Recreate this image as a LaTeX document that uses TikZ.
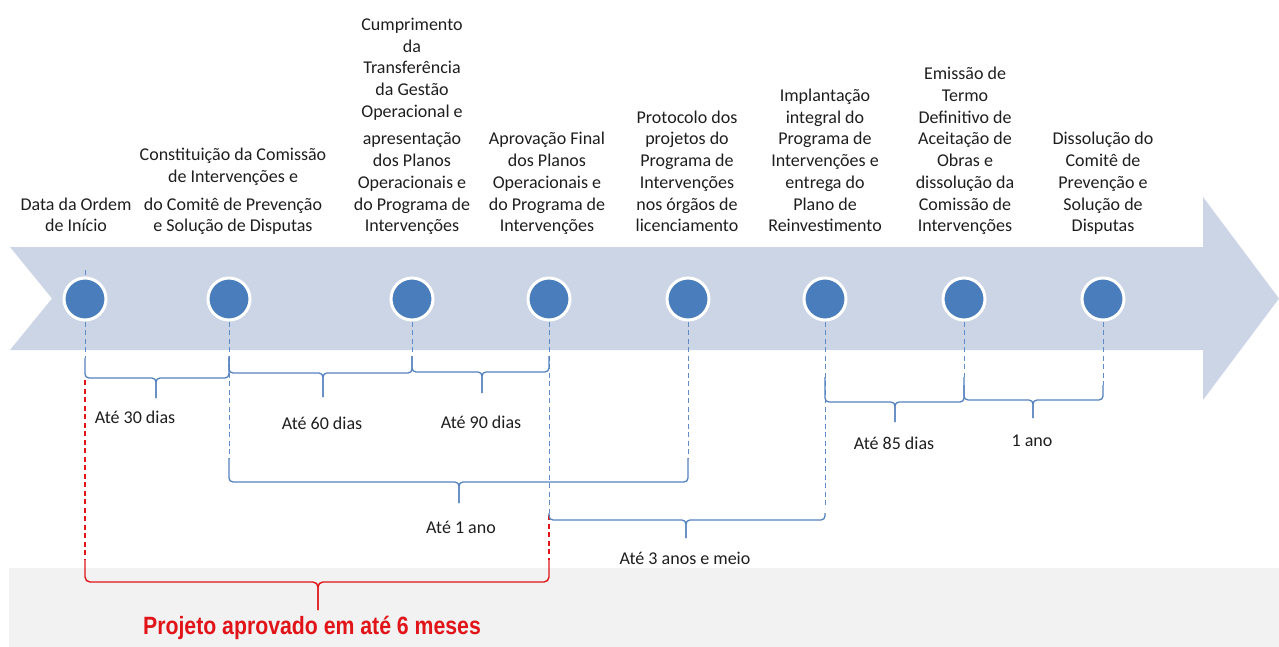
\documentclass[tikz,border=0pt]{standalone}
\usepackage{fontspec}
\setmainfont{Carlito}
\newfontfamily\redfont{Liberation Sans}
\usepackage{graphicx}
\definecolor{band}{RGB}{204,213,230}
\definecolor{dot}{RGB}{74,125,187}
\definecolor{brk}{RGB}{84,130,190}
\definecolor{guidec}{RGB}{95,140,198}
\definecolor{redc}{RGB}{225,20,25}
\definecolor{txt}{RGB}{30,30,30}
\definecolor{greyband}{RGB}{242,242,242}
\begin{document}
\begin{tikzpicture}[x=1pt,y=-1pt,
  milestone/.style={circle,fill=dot,draw=white,line width=3pt,minimum size=42pt,inner sep=0},
  evtext/.style={align=center,font=\fontsize{18}{21.7}\selectfont,text=txt,anchor=south,inner sep=0},
  durtext/.style={font=\fontsize{18}{21.7}\selectfont,text=txt,inner sep=0},
  guide/.style={draw=guidec,line width=0.9pt,dash pattern=on 5pt off 3.5pt},
  redguide/.style={draw=redc,line width=1.1pt,dash pattern=on 5pt off 3.5pt},
  brace/.style={draw=brk,line width=1.3pt,rounded corners=4pt},
  redbrace/.style={draw=redc,line width=1.4pt,rounded corners=5pt},
]
\useasboundingbox (0,0) rectangle (1279,647);
% backgrounds
\fill[greyband] (9,568) rectangle (1279,647);
\fill[band] (10,247) -- (1203,247) -- (1203,197) -- (1279,298.5) -- (1203,400)
  -- (1203,350) -- (10,350) -- (52,298.5) -- cycle;

% milestones
\node[milestone] (m1) at (85,299) {};
\node[milestone] (m2) at (229,299) {};
\node[milestone] (m3) at (412,299) {};
\node[milestone] (m4) at (549,299) {};
\node[milestone] (m5) at (688,299) {};
\node[milestone] (m6) at (825,299) {};
\node[milestone] (m7) at (964,299) {};
\node[milestone] (m8) at (1103,299) {};

% event texts
\node[evtext] (t1) at (76,238.5) {Data da Ordem\\de Início\strut};
\node[evtext] (t2) at (233,238.5) {Constituição da Comissão\\de Intervenções e\\[6pt]do Comitê de Prevenção\\e Solução de Disputas\strut};
\node[evtext] (t3) at (412,238.5) {Cumprimento\\da\\Transferência\\da Gestão\\Operacional e\\[6pt]apresentação\\dos Planos\\Operacionais e\\do Programa de\\Intervenções\strut};
\node[evtext] (t4) at (547,238.5) {Aprovação Final\\dos Planos\\Operacionais e\\do Programa de\\Intervenções\strut};
\node[evtext] (t5) at (687,238.5) {Protocolo dos\\projetos do\\Programa de\\Intervenções\\nos órgãos de\\licenciamento\strut};
\node[evtext] (t6) at (825,238.5) {Implantação\\integral do\\Programa de\\Intervenções e\\entrega do\\Plano de\\Reinvestimento\strut};
\node[evtext] (t7) at (965,238.5) {Emissão de\\Termo\\Definitivo de\\Aceitação de\\Obras e\\dissolução da\\Comissão de\\Intervenções\strut};
\node[evtext] (t8) at (1103,238.5) {Dissolução do\\Comitê de\\Prevenção e\\Solução de\\Disputas\strut};

% guide end points
\coordinate (g0) at (85,270);
\coordinate (g1) at (85,358);
\coordinate (g2) at (229,458);
\coordinate (g3) at (412,355);
\coordinate (g4) at (549,513);
\coordinate (g5) at (688,458);
\coordinate (g6) at (825,508);
\coordinate (g7) at (964,377);
\coordinate (g8) at (1103,385);
\coordinate (r1a) at (85,380);
\coordinate (r1b) at (85,560);
\coordinate (r4a) at (549,515);
\coordinate (r4b) at (549,560);

\draw[guide] (g0) -- (m1.north);
\draw[guide] (m1.south) -- (g1);
\draw[guide] (m2.south) -- (g2);
\draw[guide] (m3.south) -- (g3);
\draw[guide] (m4.south) -- (g4);
\draw[guide] (m5.south) -- (g5);
\draw[guide] (m6.south) -- (g6);
\draw[guide] (m7.south) -- (g7);
\draw[guide] (m8.south) -- (g8);
\draw[redguide] (r1a) -- (r1b);
\draw[redguide] (r4a) -- (r4b);

% braces: x1, x2, y, ytop, xm, ybottom
\newcommand{\mybrace}[7][brace]{%
  \draw[#1] (#2,#5) -- (#2,#4) -- (#6,#4) -- (#6,#7);
  \draw[#1] (#6,#7) -- (#6,#4) -- (#3,#4) -- (#3,#5);}
\mybrace{85}{229}{378}{358}{156}{398}
\mybrace{229}{412}{373}{356}{323}{397}
\mybrace{412}{549}{372}{356}{482}{393}
\mybrace{229}{688}{482}{458}{459}{503}
\mybrace{549}{825}{520}{513}{686}{538}
\mybrace{825}{964}{402}{377}{895}{422}
\mybrace{964}{1103}{400}{385}{1033}{418}
\mybrace[redbrace]{85}{549}{582}{560}{318}{610}

% duration labels
\node[durtext] (l1) at (135,417) {Até 30 dias};
\node[durtext] (l2) at (322,423) {Até 60 dias};
\node[durtext] (l3) at (481,422) {Até 90 dias};
\node[durtext] (l4) at (461,527) {Até 1 ano};
\node[durtext] (l5) at (685,558) {Até 3 anos e meio};
\node[durtext] (l6) at (894,443) {Até 85 dias};
\node[durtext] (l7) at (1032,441) {1 ano};
\node[inner sep=0,text=redc,anchor=base] (lr) at (312,634)
  {\scalebox{0.85}[1]{\redfont\bfseries\fontsize{25}{29}\selectfont Projeto aprovado em até 6 meses}};
\end{tikzpicture}
\end{document}
